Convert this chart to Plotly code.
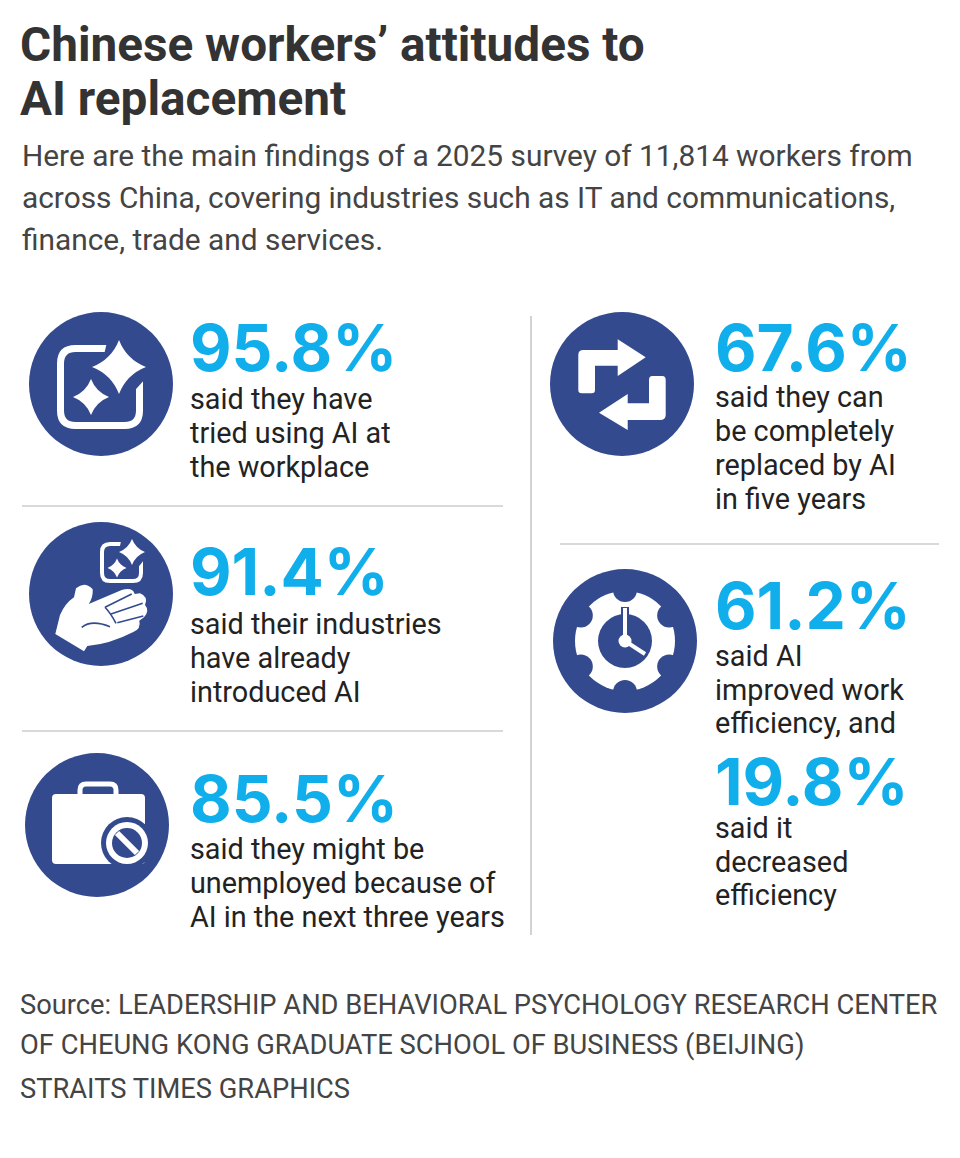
import math
import plotly.graph_objects as go

W, H = 960, 1158
PAGE_MARGIN = 8  # the browser's default body margin
NAVY = "#334A8F"
BLUE = "#10AEEA"
RULE = "#B4B4B4"
FONT = "Roboto"
NUM_FONT = "Inter"

title_lines = ["Chinese workers’ attitudes to", "AI replacement"]
intro_lines = [
    "Here are the main findings of a 2025 survey of 11,814 workers from",
    "across China, covering industries such as IT and communications,",
    "finance, trade and services.",
]
source_lines = [
    "Source: LEADERSHIP AND BEHAVIORAL PSYCHOLOGY RESEARCH CENTER",
    "OF CHEUNG KONG GRADUATE SCHOOL OF BUSINESS (BEIJING)",
    "STRAITS TIMES GRAPHICS",
]
percents = ["95.8%", "91.4%", "85.5%", "67.6%", "61.2%", "19.8%"]
captions = [
    ["said they have", "tried using AI at", "the workplace"],
    ["said their industries", "have already", "introduced AI"],
    ["said they might be", "unemployed because of", "AI in the next three years"],
    ["said they can", "be completely", "replaced by AI", "in five years"],
    ["said AI", "improved work", "efficiency, and"],
    ["said it", "decreased", "efficiency"],
]
# x of the block, y of the number, y of each caption line
blocks = [
    (189, 347, [399, 433, 467]),
    (189, 571, [624, 658, 692]),
    (189, 798, [849, 883, 917]),
    (714, 347, [397, 431, 465, 499]),
    (714, 605, [656, 690, 723]),
    (714, 781, [828, 862, 895]),
]

shapes = []
annotations = []


def text(x, y, s, size, color, weight=400, family=FONT):
    annotations.append(dict(
        x=x, y=y, text=s, xref="x", yref="y", showarrow=False,
        xanchor="left", yanchor="middle", align="left", borderpad=0,
        font=dict(family=family, size=size, color=color, weight=weight),
    ))


def path(d, fill="white", line=None, width=0):
    shapes.append(dict(
        type="path", path=d, fillcolor=fill, layer="above",
        line=dict(color=line or "rgba(0,0,0,0)", width=width),
    ))


def circle(cx, cy, r, fill=NAVY, line=None, width=0):
    shapes.append(dict(
        type="circle", x0=cx - r, x1=cx + r, y0=cy - r, y1=cy + r,
        fillcolor=fill, layer="above",
        line=dict(color=line or "rgba(0,0,0,0)", width=width),
    ))


def rule(x0, y0, x1, y1):
    shapes.append(dict(type="line", x0=x0, y0=y0, x1=x1, y1=y1,
                       line=dict(color=RULE, width=1.2)))


def seg(x0, y0, x1, y1, color, width):
    shapes.append(dict(type="line", x0=x0, y0=y0, x1=x1, y1=y1, layer="above",
                       line=dict(color=color, width=width)))


def star(cx, cy, r, fill="white"):
    k = r * 0.28
    d = (f"M{cx},{cy-r} Q{cx+k},{cy-k} {cx+r},{cy} Q{cx+k},{cy+k} {cx},{cy+r} "
         f"Q{cx-k},{cy+k} {cx-r},{cy} Q{cx-k},{cy-k} {cx},{cy-r} Z")
    path(d, fill)


def round_box(x0, y0, x1, y1, r, fill, line=None, width=0):
    d = (f"M{x0+r},{y0} L{x1-r},{y0} Q{x1},{y0} {x1},{y0+r} L{x1},{y1-r} "
         f"Q{x1},{y1} {x1-r},{y1} L{x0+r},{y1} Q{x0},{y1} {x0},{y1-r} "
         f"L{x0},{y0+r} Q{x0},{y0} {x0+r},{y0} Z")
    path(d, fill, line, width)


def zoomed(points, ox, oy):
    """Turn outline commands noted from a 3x crop into page pixels."""
    out = []
    for cmd, *xy in points:
        pairs = [f"{ox + xy[i] / 3:.1f},{oy + xy[i + 1] / 3:.1f}" for i in range(0, len(xy), 2)]
        out.append(cmd + " ".join(pairs))
    return " ".join(out) + " Z"


def icon_spark():
    circle(101, 384, 72)
    round_box(60.5, 348.5, 139.5, 425.5, 15, "rgba(0,0,0,0)", "white", 7)
    # the box corner is cut away behind the big star
    path("M107,342 L146,342 L146,378 L128,398 L100,372 Z", NAVY)
    star(119, 367, 33, NAVY)
    star(119, 367, 27)
    star(91, 397, 18)


def icon_hand():
    circle(101, 594, 72)
    round_box(102, 544, 141, 581, 8, "rgba(0,0,0,0)", "white", 4)
    path("M121,541 L144,541 L144,560 L136,570 L118,556 Z", NAVY)
    star(132, 552, 16, NAVY)
    star(132, 552, 13)
    star(117, 568, 9.5)
    ox, oy = 10, 510
    path(zoomed([
        ("M", 198, 235), ("Q", 225, 212, 248, 238), ("Q", 250, 262, 236, 282),
        ("L", 335, 240), ("Q", 368, 230, 374, 252), ("L", 390, 250),
        ("Q", 416, 260, 405, 285), ("Q", 420, 302, 402, 322), ("L", 388, 332),
        ("Q", 394, 356, 370, 366), ("Q", 300, 402, 232, 408), ("L", 222, 424),
        ("L", 136, 372), ("L", 150, 315), ("Q", 165, 280, 192, 262),
    ], ox, oy))
    for d in [
        [("M", 285, 292), ("L", 365, 252)],
        [("M", 303, 312), ("L", 398, 280)],
        [("M", 322, 338), ("L", 400, 318)],
        [("M", 285, 292), ("Q", 302, 310, 318, 340)],
        [("M", 215, 352), ("Q", 245, 328, 300, 350)],
    ]:
        p = zoomed(d, ox, oy).replace(" Z", "")
        path(p, "rgba(0,0,0,0)", NAVY, 1.6)


def icon_case():
    circle(97, 825, 72)
    round_box(80, 784, 116, 800, 6, "rgba(0,0,0,0)", "white", 5)
    round_box(52, 794, 145, 864, 4, "white")
    circle(127, 843, 26)
    circle(127, 843, 21, "white")
    circle(127, 843, 15)
    seg(117, 833, 137, 853, "white", 6)


def icon_arrows():
    circle(622, 384, 72)
    ox, oy = 535, 300
    path(zoomed([
        ("M", 130, 270), ("L", 130, 165), ("Q", 130, 150, 145, 150), ("L", 248, 150),
        ("L", 248, 118), ("L", 332, 172), ("L", 248, 228), ("L", 248, 197),
        ("L", 180, 197), ("L", 180, 270), ("Q", 180, 280, 170, 280),
        ("L", 140, 280), ("Q", 130, 280, 130, 270),
    ], ox, oy))
    path(zoomed([
        ("M", 392, 240), ("L", 392, 345), ("Q", 392, 360, 375, 360), ("L", 278, 360),
        ("L", 278, 390), ("L", 192, 338), ("L", 278, 282), ("L", 278, 310),
        ("L", 342, 310), ("L", 342, 240), ("Q", 342, 228, 352, 228),
        ("L", 382, 228), ("Q", 392, 228, 392, 240),
    ], ox, oy))


def icon_gear():
    cx, cy = 625, 641
    circle(cx, cy, 72)
    circle(cx, cy, 50, "white")
    for deg in (30, 90, 150, 210, 270, 330):
        a = math.radians(deg)
        circle(cx + 51 * math.cos(a), cy - 51 * math.sin(a), 12)
    circle(cx, cy, 27)
    # minute hand sits on a navy outline where it leaves the dial
    seg(cx, cy, cx, cy - 34, NAVY, 8)
    seg(cx, cy, cx, cy - 33, "white", 4)
    seg(cx, cy, cx + 20, cy + 13, "white", 4)
    circle(cx, cy, 6.5, "white")


fig = go.Figure()

for i, line in enumerate(title_lines):
    text(18.5, [45, 99][i], line, 47.7, "#333333", 700)
for i, line in enumerate(intro_lines):
    text(21, [155, 197, 239][i], line, 29.85, "#444444")
for i, line in enumerate(source_lines):
    text(19, [1005, 1045, 1089][i], line, 27.3, "#444444")

for pct, cap, (x, y, ys) in zip(percents, captions, blocks):
    text(x, y, pct, 64, BLUE, 700, NUM_FONT)
    for line, ly in zip(cap, ys):
        text(x, ly, line, 28.8, "#222222")

rule(22, 506, 503, 506)
rule(22, 731, 503, 731)
rule(531, 316, 531, 935)
rule(560, 544, 939, 544)

icon_spark()
icon_hand()
icon_case()
icon_arrows()
icon_gear()

# the page keeps its margin, so the plot fills what is left and the axes stay in page pixels
fig.update_layout(
    width=W - PAGE_MARGIN, height=H - PAGE_MARGIN,
    margin=dict(l=0, r=0, t=0, b=0),
    paper_bgcolor="white", plot_bgcolor="white",
    showlegend=False,
    xaxis=dict(range=[PAGE_MARGIN, W], visible=False, fixedrange=True),
    yaxis=dict(range=[H, PAGE_MARGIN], visible=False, fixedrange=True),
    shapes=shapes, annotations=annotations,
)

fig.write_html("out.html", config=dict(displayModeBar=False))
